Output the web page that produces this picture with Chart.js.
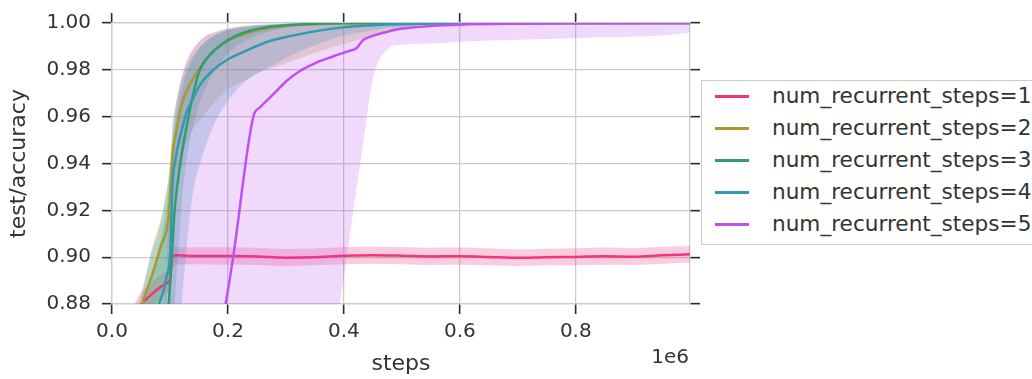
<!DOCTYPE html>
<html>
<head>
<meta charset="utf-8">
<script src="https://cdn.jsdelivr.net/npm/chart.js@4"></script>
<style>
    body { margin: 0; background: #fff; font-family: 'DejaVu Sans', sans-serif; }
    #wrap { position: relative; width: 1032px; height: 379px; overflow: hidden; }
    #legend {
        position: absolute; left: 701px; top: 80px; width: 360px; height: 165px;
        border: 1px solid #cccccc; box-sizing: border-box; background: #fff;
    }
    .legend-row { position: relative; height: 32px; }
    .legend-line { position: absolute; left: 13px; top: 14px; width: 34px; height: 3px; }
    .legend-text { position: absolute; left: 70px; top: 1px; font-size: 21.6px; line-height: 28px; color: #333; white-space: nowrap; }
</style>
</head>
<body>
<div id="wrap">
    <canvas id="accuracyChart" width="1032" height="379"></canvas>
    <div id="legend"></div>
</div>
<script>
const seriesLabels = [
    'num_recurrent_steps=1',
    'num_recurrent_steps=2',
    'num_recurrent_steps=3',
    'num_recurrent_steps=4',
    'num_recurrent_steps=5'
];

// num_recurrent_steps=1
const steps1 = [20000, 45000, 53000, 70000, 85000, 95000, 100000, 104000, 110000, 150000, 200000, 250000, 300000, 350000, 400000, 450000, 500000, 550000, 600000, 650000, 700000, 750000, 800000, 850000, 900000, 950000, 997000];
const mean1  = [0.860, 0.8775, 0.8805, 0.8845, 0.8875, 0.889, 0.8905, 0.9000, 0.9008, 0.9005, 0.9005, 0.9003, 0.8998, 0.9000, 0.9006, 0.9008, 0.9006, 0.9003, 0.9004, 0.9001, 0.8997, 0.9000, 0.9001, 0.9004, 0.9002, 0.9008, 0.9012];
const lower1 = [0.850, 0.8700, 0.8740, 0.8790, 0.8830, 0.8850, 0.8870, 0.8950, 0.8968, 0.8970, 0.8968, 0.8967, 0.8962, 0.8965, 0.8970, 0.8972, 0.8970, 0.8967, 0.8968, 0.8965, 0.8962, 0.8965, 0.8966, 0.8968, 0.8967, 0.8972, 0.8977];
const upper1 = [0.870, 0.8830, 0.8860, 0.8895, 0.8925, 0.8940, 0.8950, 0.9050, 0.9045, 0.9042, 0.9042, 0.9040, 0.9035, 0.9037, 0.9043, 0.9045, 0.9043, 0.9040, 0.9041, 0.9038, 0.9033, 0.9036, 0.9038, 0.9041, 0.9039, 0.9045, 0.9048];

// num_recurrent_steps=2
const steps2 = [20000, 53000, 70000, 85000, 94000, 98000, 101000, 105000, 111000, 120000, 134000, 150000, 163000, 180000, 198000, 225000, 255000, 290000, 324000, 360000, 400000, 500000, 600000, 800000, 997000];
const mean2  = [0.850, 0.8805, 0.893, 0.905, 0.9114, 0.918, 0.930, 0.945, 0.9538, 0.9650, 0.9737, 0.9800, 0.9848, 0.9890, 0.9922, 0.9950, 0.9972, 0.9985, 0.9992, 0.9996, 0.9998, 0.9999, 1.0, 1.0, 1.0];
const lower2 = [0.830, 0.8620, 0.872, 0.875, 0.8830, 0.893, 0.905, 0.918, 0.9320, 0.9430, 0.9520, 0.9580, 0.9620, 0.9670, 0.9715, 0.9750, 0.9790, 0.9820, 0.9850, 0.9880, 0.9910, 0.9970, 0.9995, 1.0, 1.0];
const upper2 = [0.865, 0.8870, 0.905, 0.917, 0.9280, 0.935, 0.942, 0.958, 0.9670, 0.9770, 0.9860, 0.9920, 0.9945, 0.9960, 0.9975, 0.9988, 0.9993, 0.9997, 0.9999, 1.0, 1.0, 1.0, 1.0, 1.0, 1.0];

// num_recurrent_steps=3
const steps3 = [20000, 90000, 98000, 103000, 108000, 115000, 121000, 128000, 136000, 150000, 169000, 190000, 209000, 235000, 267000, 300000, 350000, 400000, 500000, 997000];
const mean3  = [0.800, 0.850, 0.880, 0.900, 0.920, 0.935, 0.945, 0.955, 0.965, 0.9790, 0.9865, 0.9910, 0.9940, 0.9965, 0.9982, 0.9990, 0.9997, 1.0, 1.0, 1.0];
const lower3 = [0.780, 0.830, 0.850, 0.865, 0.880, 0.905, 0.925, 0.940, 0.952, 0.9650, 0.9760, 0.9840, 0.9890, 0.9930, 0.9960, 0.9980, 0.9993, 0.9998, 1.0, 1.0];
const upper3 = [0.860, 0.915, 0.930, 0.945, 0.955, 0.965, 0.972, 0.978, 0.983, 0.9890, 0.9935, 0.9960, 0.9975, 0.9985, 0.9993, 0.9997, 1.0, 1.0, 1.0, 1.0];

// num_recurrent_steps=4
const steps4 = [20000, 50000, 66000, 81000, 88000, 94000, 100000, 102000, 104000, 109000, 118000, 129000, 140000, 152000, 175000, 198000, 230000, 267000, 300000, 340000, 380000, 430000, 500000, 600000, 997000];
const mean4  = [0.850, 0.860, 0.870, 0.880, 0.885, 0.8916, 0.900, 0.913, 0.930, 0.941, 0.952, 0.962, 0.968, 0.9737, 0.9800, 0.9842, 0.9880, 0.9919, 0.9940, 0.9960, 0.9976, 0.9988, 0.9995, 0.9999, 1.0];
const lower4 = [0.800, 0.820, 0.830, 0.840, 0.845, 0.850, 0.855, 0.858, 0.860, 0.865, 0.876, 0.905, 0.928, 0.9400, 0.9560, 0.9660, 0.9750, 0.9806, 0.9850, 0.9895, 0.9932, 0.9960, 0.9985, 0.9997, 1.0];
const upper4 = [0.840, 0.882, 0.900, 0.912, 0.920, 0.928, 0.940, 0.948, 0.955, 0.963, 0.973, 0.981, 0.986, 0.9900, 0.9945, 0.9970, 0.9982, 0.9990, 0.9995, 0.9998, 1.0, 1.0, 1.0, 1.0, 1.0];

// num_recurrent_steps=5
const steps5 = [20000, 90000, 100000, 110000, 125000, 150000, 196000, 209000, 244000, 255000, 278000, 300000, 324000, 350000, 381000, 405000, 422000, 433000, 450000, 474000, 497000, 554000, 600000, 700000, 800000, 950000, 997000];
const mean5  = [0.700, 0.750, 0.760, 0.770, 0.785, 0.820, 0.880, 0.900, 0.9602, 0.9639, 0.9695, 0.9750, 0.9795, 0.9828, 0.9857, 0.9878, 0.9893, 0.9927, 0.9945, 0.9962, 0.9975, 0.9988, 0.9993, 0.9997, 0.9999, 1.0, 1.0];
const lower5 = [0.500, 0.550, 0.560, 0.570, 0.580, 0.600, 0.640, 0.650, 0.680, 0.690, 0.710, 0.730, 0.760, 0.800, 0.860, 0.900, 0.930, 0.948, 0.976, 0.9885, 0.9906, 0.9912, 0.9920, 0.9928, 0.9936, 0.9947, 0.9958];
const upper5 = [0.800, 0.880, 0.930, 0.962, 0.981, 0.992, 0.9975, 0.9980, 0.9990, 0.9993, 0.9995, 0.9997, 0.9998, 0.9999, 1.0, 1.0, 1.0, 1.0, 1.0, 1.0, 1.0, 1.0, 1.0, 1.0, 1.0, 1.0, 1.0];

const yTicks = [0.88, 0.90, 0.92, 0.94, 0.96, 0.98, 1.00];
const xTicks = [0, 200000, 400000, 600000, 800000];
const xMax = 997000;

const lineColors = ['#f0357f', '#a89a2c', '#2f9e6c', '#2f9bb3', '#c150f2'];
const bandColors = [
    'rgba(240, 53, 127, 0.25)',
    'rgba(168, 154, 44, 0.25)',
    'rgba(47, 158, 108, 0.25)',
    'rgba(47, 155, 179, 0.25)',
    'rgba(193, 80, 242, 0.22)'
];

const textColor = '#333333';
const gridColor = '#cbcbcb';
const fontFamily = "'DejaVu Sans', sans-serif";

function toPoints(xs, ys) {
    return xs.map((x, i) => ({ x: x, y: ys[i] }));
}

const series = [
    { steps: steps1, mean: mean1, lower: lower1, upper: upper1 },
    { steps: steps2, mean: mean2, lower: lower2, upper: upper2 },
    { steps: steps3, mean: mean3, lower: lower3, upper: upper3 },
    { steps: steps4, mean: mean4, lower: lower4, upper: upper4 },
    { steps: steps5, mean: mean5, lower: lower5, upper: upper5 }
];

const datasets = [];

// confidence bands go underneath every line; later series sit on top
series.forEach((s, i) => {
    const lowIndex = datasets.length;
    datasets.push({
        data: toPoints(s.steps, s.lower),
        borderColor: 'rgba(0,0,0,0)',
        borderWidth: 0,
        pointRadius: 0,
        fill: false,
        cubicInterpolationMode: 'monotone',
        order: 100 - 2 * i
    });
    datasets.push({
        data: toPoints(s.steps, s.upper),
        borderColor: 'rgba(0,0,0,0)',
        borderWidth: 0,
        pointRadius: 0,
        fill: lowIndex,
        backgroundColor: bandColors[i],
        cubicInterpolationMode: 'monotone',
        order: 99 - 2 * i
    });
});

series.forEach((s, i) => {
    datasets.push({
        label: seriesLabels[i],
        data: toPoints(s.steps, s.mean),
        borderColor: lineColors[i],
        borderWidth: 2.5,
        pointRadius: 0,
        fill: false,
        cubicInterpolationMode: 'monotone',
        order: 10 - i
    });
});

const tickMarks = {
    color: gridColor,
    lineWidth: 1.3,
    tickColor: '#2a2a2a',
    tickLength: 10,
    tickWidth: 1.6
};

// "1e6" offset text under the right end of the x axis
const offsetLabel = {
    id: 'offsetLabel',
    afterDraw(chart) {
        const ctx = chart.ctx;
        ctx.save();
        ctx.font = '20px ' + fontFamily;
        ctx.fillStyle = textColor;
        ctx.textAlign = 'right';
        ctx.textBaseline = 'middle';
        ctx.fillText('1e6', chart.chartArea.right - 1, chart.chartArea.bottom + 54);
        ctx.restore();
    }
};

new Chart(document.getElementById('accuracyChart'), {
    type: 'line',
    data: { datasets: datasets },
    options: {
        responsive: false,
        animation: false,
        layout: { padding: 0 },
        plugins: {
            legend: { display: false },
            tooltip: { enabled: false }
        },
        scales: {
            x: {
                type: 'linear',
                position: 'bottom',
                min: 0,
                max: xMax,
                afterBuildTicks: scale => { scale.ticks = xTicks.map(v => ({ value: v })); },
                afterFit: scale => { scale.height = 75; },
                grid: Object.assign({ drawOnChartArea: true, drawTicks: true }, tickMarks),
                border: { display: true, color: gridColor, width: 1.3 },
                ticks: {
                    color: textColor,
                    padding: 6,
                    font: { family: fontFamily, size: 20 },
                    callback: v => (v / 1e6).toFixed(1)
                },
                title: {
                    display: true,
                    text: 'steps',
                    color: textColor,
                    font: { family: fontFamily, size: 22 },
                    padding: { top: 0, bottom: 2 }
                }
            },
            xTop: {
                type: 'linear',
                position: 'top',
                min: 0,
                max: xMax,
                afterBuildTicks: scale => { scale.ticks = xTicks.map(v => ({ value: v })); },
                afterFit: scale => { scale.height = 21; },
                grid: Object.assign({}, tickMarks, { drawOnChartArea: false, drawTicks: true }),
                border: { display: true, color: gridColor, width: 1.3 },
                ticks: { display: false }
            },
            y: {
                type: 'linear',
                position: 'left',
                min: 0.88,
                max: 1.0,
                afterBuildTicks: scale => { scale.ticks = yTicks.map(v => ({ value: v })); },
                afterFit: scale => { scale.width = 112; },
                grid: Object.assign({ drawOnChartArea: true, drawTicks: true }, tickMarks),
                border: { display: true, color: gridColor, width: 1.3 },
                ticks: {
                    color: textColor,
                    padding: 11,
                    font: { family: fontFamily, size: 20 },
                    callback: v => v.toFixed(2)
                },
                title: {
                    display: true,
                    text: 'test/accuracy',
                    color: textColor,
                    font: { family: fontFamily, size: 22 },
                    padding: { top: 6, bottom: 0 }
                }
            },
            yRight: {
                type: 'linear',
                position: 'right',
                min: 0.88,
                max: 1.0,
                afterBuildTicks: scale => { scale.ticks = yTicks.map(v => ({ value: v })); },
                afterFit: scale => { scale.width = 342; },
                grid: Object.assign({}, tickMarks, { drawOnChartArea: false, drawTicks: true }),
                border: { display: true, color: gridColor, width: 1.3 },
                ticks: { display: false }
            }
        }
    },
    plugins: [offsetLabel]
});

// framed legend on the right, built from the same labels and colours
const legendBox = document.getElementById('legend');
seriesLabels.forEach((label, i) => {
    const row = document.createElement('div');
    row.className = 'legend-row';
    const line = document.createElement('span');
    line.className = 'legend-line';
    line.style.background = lineColors[i];
    const text = document.createElement('span');
    text.className = 'legend-text';
    text.textContent = label;
    row.appendChild(line);
    row.appendChild(text);
    legendBox.appendChild(row);
});
</script>
</body>
</html>
